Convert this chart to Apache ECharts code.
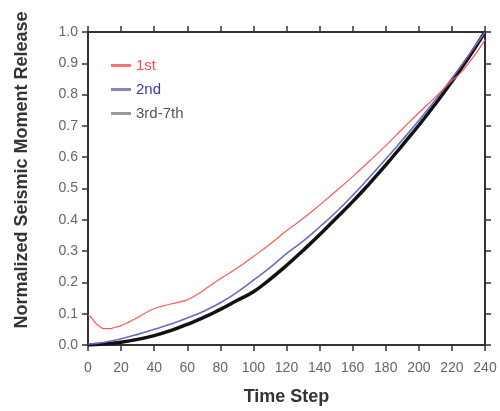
<!DOCTYPE html>
<html>
<head>
<meta charset="utf-8">
<script src="https://cdn.jsdelivr.net/npm/echarts@6/dist/echarts.min.js"></script>
<style>
  html, body { margin: 0; padding: 0; background: #fff; }
  #chart { width: 500px; height: 411px; }
</style>
</head>
<body>
<div id="chart"></div>
<script>
// data
var redSteps = [0, 2, 5, 8, 10, 13, 16, 20, 25, 30, 35, 40, 45, 50, 55, 60, 65, 70, 75, 80, 90, 100, 110, 120, 130, 140, 150, 160, 170, 180, 190, 200, 210, 220, 225, 230, 235, 240];
var firstVals = [0.095, 0.088, 0.068, 0.056, 0.052, 0.052, 0.056, 0.062, 0.074, 0.088, 0.103, 0.116, 0.124, 0.131, 0.137, 0.144, 0.158, 0.175, 0.194, 0.212, 0.245, 0.283, 0.322, 0.365, 0.404, 0.447, 0.492, 0.538, 0.587, 0.637, 0.69, 0.742, 0.792, 0.845, 0.868, 0.9, 0.935, 0.975];

var steps = [0, 10, 20, 30, 40, 50, 60, 70, 80, 90, 100, 110, 120, 130, 140, 150, 160, 170, 180, 190, 200, 210, 220, 230, 240];
var secondVals = [0.003, 0.009, 0.02, 0.034, 0.05, 0.067, 0.086, 0.108, 0.135, 0.168, 0.207, 0.247, 0.292, 0.332, 0.377, 0.425, 0.478, 0.535, 0.594, 0.655, 0.717, 0.783, 0.852, 0.925, 1.0];
var laterVals = [0.0, 0.003, 0.009, 0.018, 0.03, 0.046, 0.066, 0.088, 0.114, 0.142, 0.17, 0.21, 0.254, 0.302, 0.352, 0.405, 0.458, 0.515, 0.575, 0.638, 0.702, 0.77, 0.842, 0.918, 1.0];

var legendNames = ['1st', '2nd', '3rd-7th'];

var font = 'Liberation Sans, Arial, sans-serif';

function pairs(xs, ys) { var o = []; for (var i = 0; i < xs.length; i++) o.push([xs[i], ys[i]]); return o; }
function axisLine() { return { show: true, onZero: false, lineStyle: { color: '#333', width: 2 } }; }
function axisTick() { return { show: true, inside: false, length: 6, lineStyle: { color: '#333', width: 1.5 } }; }

var mychart = echarts.init(document.getElementById('chart'));

option = {
    animation: false,
    grid: { left: 88, right: 15, top: 32, bottom: 65, containLabel: false },
    legend: {
        orient: 'vertical',
        left: 106,
        top: 53,
        icon: 'rect',
        itemWidth: 20,
        itemHeight: 3,
        itemGap: 9,
        textStyle: { fontFamily: font, fontSize: 15, lineHeight: 14 },
        data: [
            { name: legendNames[0], itemStyle: { color: '#ff7070' }, textStyle: { color: '#ff4a4a' } },
            { name: legendNames[1], itemStyle: { color: '#8585cc' }, textStyle: { color: '#3a3aa0' } },
            { name: legendNames[2], itemStyle: { color: '#999' }, textStyle: { color: '#555' } }
        ]
    },
    graphic: [{
        type: 'text',
        x: 22,
        y: 170,
        rotation: Math.PI / 2,
        style: {
            text: 'Normalized Seismic Moment Release',
            fontFamily: font, fontSize: 18, fontWeight: 'bold', fill: '#333',
            align: 'center', verticalAlign: 'middle'
        }
    }],
    xAxis: [{
        type: 'value', min: 0, max: 240, interval: 20, position: 'bottom',
        name: 'Time Step', nameLocation: 'middle', nameGap: 43,
        nameTextStyle: { fontFamily: font, fontSize: 18, fontWeight: 'bold', color: '#333' },
        axisLine: axisLine(), axisTick: axisTick(),
        axisLabel: { fontFamily: font, fontSize: 14, color: '#666', margin: 16 },
        splitLine: { show: false }
    }, {
        type: 'value', min: 0, max: 240, interval: 20, position: 'top',
        axisLine: axisLine(), axisTick: axisTick(),
        axisLabel: { show: false },
        splitLine: { show: false }
    }],
    yAxis: [{
        type: 'value', min: 0, max: 1, interval: 0.1, position: 'left',
        axisLine: axisLine(), axisTick: axisTick(),
        axisLabel: { fontFamily: font, fontSize: 14, color: '#666', margin: 10,
                     formatter: function (v) { return v.toFixed(1); } },
        splitLine: { show: false }
    }, {
        type: 'value', min: 0, max: 1, interval: 0.1, position: 'right',
        axisLine: axisLine(), axisTick: axisTick(),
        axisLabel: { show: false },
        splitLine: { show: false }
    }],
    series: [
        { name: legendNames[2], type: 'line', symbol: 'none', smooth: true,
          data: pairs(steps, laterVals), lineStyle: { color: '#111', width: 3.5 } },
        { name: legendNames[1], type: 'line', symbol: 'none', smooth: true,
          data: pairs(steps, secondVals), lineStyle: { color: '#6a6ac4', width: 1.6 } },
        { name: legendNames[0], type: 'line', symbol: 'none', smooth: true,
          data: pairs(redSteps, firstVals), lineStyle: { color: '#ff5a5a', width: 1.2 } }
    ]
};

mychart.setOption(option);
</script>
</body>
</html>
